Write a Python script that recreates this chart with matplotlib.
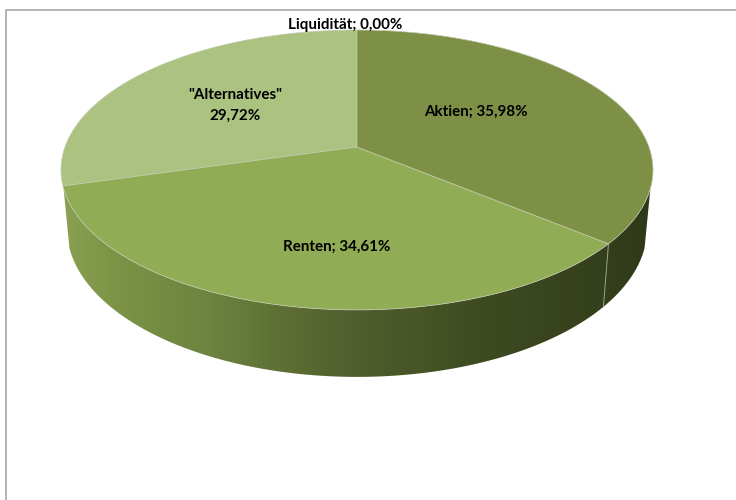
import numpy as np
import matplotlib
matplotlib.use("Agg")
import matplotlib.pyplot as plt
from matplotlib.colors import LinearSegmentedColormap
from matplotlib.patches import Polygon

# Anteile laut Beschriftung, Reihenfolge im Uhrzeigersinn ab 12 Uhr
kategorien = ["Aktien", "Renten", "\"Alternatives\"", "Liquidität"]
werte = [35.98, 34.61, 29.72, 0.00]
farben = ["#7d9045", "#90ad55", "#abc280", "#4f81bd"]
beschriftungen = ["Aktien; 35,98%", "Renten; 34,61%", "\"Alternatives\"\n29,72%", "Liquidität; 0,00%"]
label_pos = [(476, 111.5), (337, 246.5), (235, 105.5), (345, 25)]

# Geometrie der perspektivischen Torte (Pixel)
CX, CY = 357, 147
A, C, D = 136.2, 0.164, 292
TIEFE, SCHRUMPF_X, SCHRUMPF_Y = 57.2, 0.98, 1.06

plt.rcParams["font.family"] = ["Lato", "DejaVu Sans"]
plt.rcParams["font.weight"] = "bold"


def rand(theta, unten=False):
    # theta im Uhrzeigersinn ab 12 Uhr, Bogenmass
    u, v = np.sin(theta), np.cos(theta)
    n = 1 + C * v
    x, y = D * u / n, -A * v / n
    if unten:
        return CX + SCHRUMPF_X * x, CY + TIEFE + SCHRUMPF_Y * y
    return CX + x, CY + y


fig = plt.figure(figsize=(7.36, 5.0), dpi=100)
ax = fig.add_axes([0, 0, 1, 1])
ax.set_xlim(0, 736)
ax.set_ylim(500, 0)
ax.axis("off")

# Rahmen des Diagrammbereichs, rechts und unten abgeschnitten
ax.plot([736, 6, 6], [10, 10, 500], color="#b3b3b3", lw=1.4)

# Mantel mit Verlauf
t0 = np.arccos(-0.29)
th = np.linspace(t0, 2 * np.pi - t0, 300)
ox, oy = rand(th)
ux, uy = rand(th, unten=True)
mantel = Polygon(np.r_[np.c_[ox, oy], np.c_[ux, uy][::-1]], closed=True,
                 facecolor="none", edgecolor="none")
ax.add_patch(mantel)
verlauf = LinearSegmentedColormap.from_list("mantel", [
    (0.0, "#8aa052"), (0.08, "#7d9446"), (0.25, "#6d8340"), (0.40, "#5a6b32"),
    (0.50, "#505e2c"), (0.70, "#3f4c22"), (0.92, "#343f1c"), (1.0, "#2f3919")])
bild = ax.imshow(np.linspace(0, 1, 400)[None, :], cmap=verlauf, aspect="auto",
                 extent=(62, 652, 500, 0), zorder=1)
bild.set_clip_path(mantel)
ax.set_xlim(0, 736)
ax.set_ylim(500, 0)

# Tortenstuecke
grenzen = np.r_[0, np.cumsum(werte)] / 100 * 2 * np.pi
grenzen = np.minimum(grenzen, 2 * np.pi)
for i in [2, 1, 0]:
    t = np.linspace(grenzen[i], grenzen[i + 1], 200)
    x, y = rand(t)
    ax.add_patch(Polygon(np.r_[[[CX, CY]], np.c_[x, y]], closed=True, facecolor=farben[i],
                         edgecolor="#c3cbb0", lw=0.5, zorder=3))

# Naht am Mantel zwischen Aktien und Renten
ox, oy = rand(grenzen[1])
ux, uy = rand(grenzen[1], unten=True)
ax.plot([ox, ux], [oy, uy], color="#9aa38a", lw=0.7, zorder=2)

for text, (lx, ly) in zip(beschriftungen, label_pos):
    ax.text(lx, ly, text, ha="center", va="center", fontsize=10.9, color="black",
            fontweight="bold", linespacing=1.6, zorder=5)

fig.savefig("out.png", dpi=100)
